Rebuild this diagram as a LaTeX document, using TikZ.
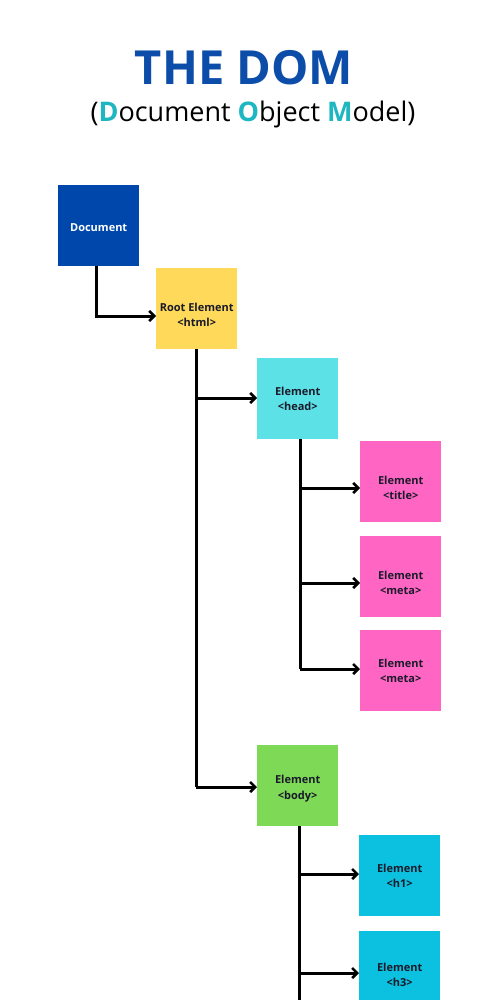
\documentclass[tikz,border=0pt]{standalone}
\usepackage{fontspec}
\setmainfont{Open Sans}
\usetikzlibrary{arrows.meta}
\definecolor{domblue}{HTML}{0047AB}
\definecolor{titleblue}{HTML}{0B4DA8}
\definecolor{accentteal}{HTML}{1DB7C2}
\definecolor{boxyellow}{HTML}{FFD95A}
\definecolor{boxcyan}{HTML}{5CE1E6}
\definecolor{boxpink}{HTML}{FF66C4}
\definecolor{boxgreen}{HTML}{7ED957}
\definecolor{boxteal}{HTML}{0CC0DF}
\definecolor{txtdark}{HTML}{1A1A2A}
\begin{document}
\begin{tikzpicture}[x=1pt,y=-1pt,
  domnode/.style={minimum width=81pt,minimum height=81pt,inner sep=0pt,anchor=north west},
  domtext/.style={inner sep=0pt,align=center,font=\fontsize{11}{15.5}\selectfont\bfseries,text=txtdark},
  conn/.style={line width=3pt,-{Straight Barb[length=5pt,width=10pt,line width=2.6pt]}},
  trunk/.style={line width=3pt}]
\useasboundingbox[fill=white] (0,0) rectangle (500,1000);
\node (title) at (244,68) {\fontsize{47}{52}\selectfont\bfseries\color{titleblue}THE DOM};
\node (subtitle) at (253,114) {\fontsize{27}{31}\selectfont (\textcolor{accentteal}{\bfseries D}ocument \textcolor{accentteal}{\bfseries O}bject \textcolor{accentteal}{\bfseries M}odel)};
\node[domnode,fill=domblue] (doc) at (58,185) {};
\node[domnode,fill=boxyellow] (html) at (156,268) {};
\node[domnode,fill=boxcyan] (head) at (257,358) {};
\node[domnode,fill=boxpink] (title1) at (360,441) {};
\node[domnode,fill=boxpink] (meta1) at (360,536) {};
\node[domnode,fill=boxpink] (meta2) at (360,630) {};
\node[domnode,fill=boxgreen] (body) at (257,745) {};
\node[domnode,fill=boxteal] (h1) at (359,835) {};
\node[domnode,fill=boxteal] (h3) at (359,931) {};
\node[domtext,text=white] (doc-t) at ([yshift=-2pt]doc.center) {Document};
\node[domtext] (html-t) at ([yshift=-6pt]html.center) {Root Element\\<html>};
\node[domtext] (head-t) at ([yshift=0pt]head.center) {Element\\<head>};
\node[domtext] (title1-t) at ([yshift=-6pt]title1.center) {Element\\<title>};
\node[domtext] (meta1-t) at ([yshift=-6pt]meta1.center) {Element\\<meta>};
\node[domtext] (meta2-t) at ([yshift=0pt]meta2.center) {Element\\<meta>};
\node[domtext] (body-t) at ([yshift=-3pt]body.center) {Element\\<body>};
\node[domtext] (h1-t) at ([yshift=0pt]h1.center) {Element\\<h1>};
\node[domtext] (h3-t) at ([yshift=-3pt]h3.center) {Element\\<h3>};
\coordinate (bodyend) at (299,1002);
% connectors
\draw[conn] (doc.south -| 96,0) |- (html.west |- 0,316);
\draw[trunk] (html.south -| 196,0) -- (196,787);
\draw[conn] (196,398) -- (head.west |- 0,398);
\draw[conn] (196,787) -- (body.west |- 0,787);
\draw[trunk] (head.south -| 300,0) -- (300,669);
\draw[conn] (300,488) -- (title1.west |- 0,488);
\draw[conn] (300,583) -- (meta1.west |- 0,583);
\draw[conn] (300,669) -- (meta2.west |- 0,669);
\draw[trunk] (body.south -| 299,0) -- (bodyend);
\draw[conn] (299,874) -- (h1.west |- 0,874);
\draw[conn] (299,973) -- (h3.west |- 0,973);
\end{tikzpicture}
\end{document}
